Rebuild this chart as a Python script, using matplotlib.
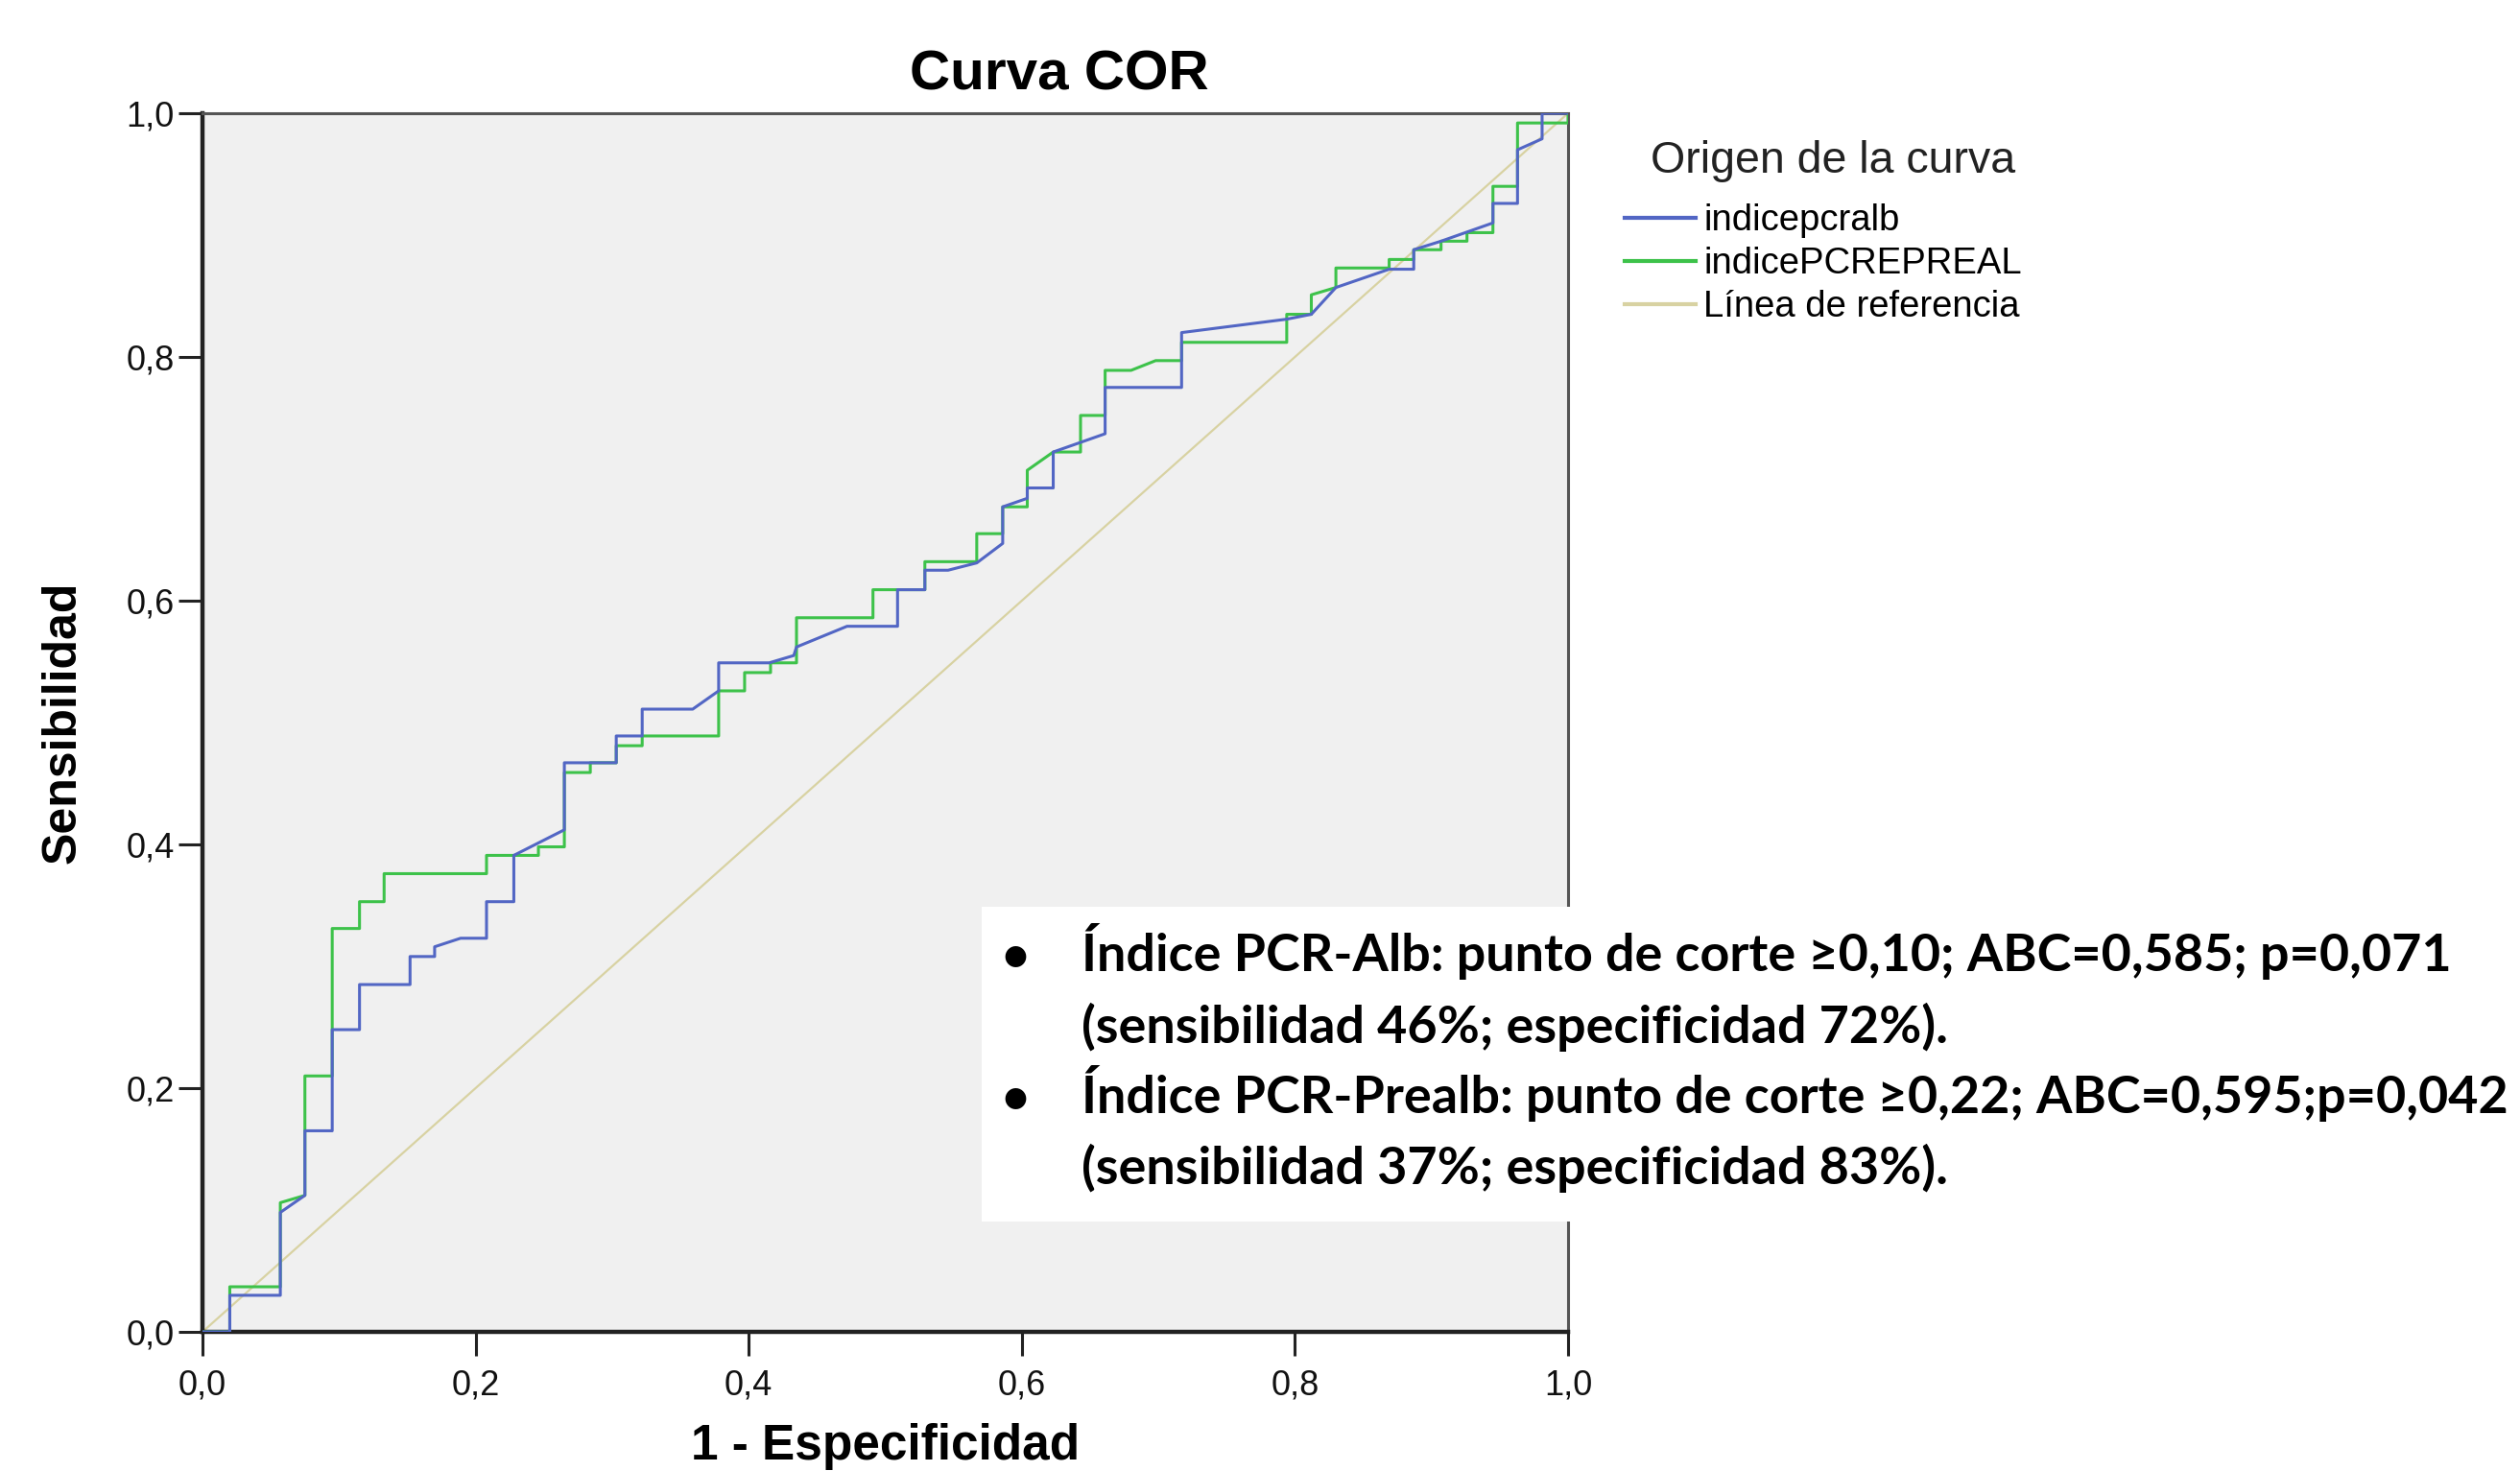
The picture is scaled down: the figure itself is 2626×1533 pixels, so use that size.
import matplotlib
matplotlib.use("Agg")
import matplotlib.pyplot as plt
from matplotlib.patches import Rectangle
from matplotlib.ticker import FuncFormatter

# ROC vertices (1 - especificidad, sensibilidad)
fpr_alb = [0, 0.020, 0.020, 0.057, 0.057, 0.075, 0.075, 0.095, 0.095, 0.115, 0.115, 0.152, 0.152,
           0.170, 0.170, 0.189, 0.208, 0.208, 0.228, 0.228, 0.265, 0.265, 0.303, 0.303, 0.322, 0.322,
           0.359, 0.378, 0.378, 0.415, 0.433, 0.435, 0.472, 0.509, 0.509, 0.529, 0.529, 0.546, 0.567,
           0.586, 0.586, 0.604, 0.604, 0.623, 0.623, 0.661, 0.661, 0.717, 0.717, 0.794, 0.812, 0.830,
           0.869, 0.887, 0.887, 0.907, 0.945, 0.945, 0.963, 0.963, 0.981, 0.981, 1.0]
tpr_alb = [0, 0, 0.030, 0.030, 0.098, 0.112, 0.165, 0.165, 0.248, 0.248, 0.285, 0.285, 0.308,
           0.308, 0.316, 0.323, 0.323, 0.353, 0.353, 0.391, 0.412, 0.467, 0.467, 0.489, 0.489, 0.511,
           0.511, 0.526, 0.549, 0.549, 0.555, 0.562, 0.579, 0.579, 0.609, 0.609, 0.625, 0.625, 0.631,
           0.647, 0.677, 0.684, 0.6925, 0.6925, 0.722, 0.737, 0.775, 0.775, 0.820, 0.831, 0.835, 0.857,
           0.872, 0.872, 0.888, 0.895, 0.910, 0.926, 0.926, 0.970, 0.979, 1.0, 1.0]

fpr_prealb = [0, 0.020, 0.020, 0.057, 0.057, 0.075, 0.075, 0.095, 0.095, 0.115, 0.115, 0.133, 0.133,
              0.208, 0.208, 0.246, 0.246, 0.265, 0.265, 0.284, 0.284, 0.303, 0.303, 0.322, 0.322,
              0.378, 0.378, 0.397, 0.397, 0.416, 0.416, 0.435, 0.435, 0.491, 0.491, 0.529, 0.529,
              0.567, 0.567, 0.586, 0.586, 0.604, 0.604, 0.623, 0.643, 0.643, 0.661, 0.661, 0.680,
              0.698, 0.717, 0.717, 0.794, 0.794, 0.812, 0.812, 0.830, 0.830, 0.869, 0.869, 0.887,
              0.887, 0.907, 0.907, 0.926, 0.926, 0.945, 0.945, 0.963, 0.963, 1.0, 1.0]
tpr_prealb = [0, 0, 0.037, 0.037, 0.106, 0.112, 0.210, 0.210, 0.331, 0.331, 0.353, 0.353, 0.376,
              0.376, 0.391, 0.391, 0.398, 0.398, 0.459, 0.459, 0.467, 0.467, 0.481, 0.481, 0.489,
              0.489, 0.526, 0.526, 0.541, 0.541, 0.549, 0.549, 0.586, 0.586, 0.609, 0.609, 0.632,
              0.632, 0.655, 0.655, 0.677, 0.677, 0.707, 0.722, 0.722, 0.752, 0.752, 0.789, 0.789,
              0.797, 0.797, 0.812, 0.812, 0.835, 0.835, 0.851, 0.857, 0.873, 0.873, 0.880, 0.880,
              0.888, 0.888, 0.895, 0.895, 0.902, 0.902, 0.940, 0.940, 0.992, 0.992, 1.0]

ref_x = [0, 1]
ref_y = [0, 1]

series_names = ["indicepcralb", "indicePCREPREAL", "Línea de referencia"]
notes = [
    ("Índice PCR-Alb: punto de corte ≥0,10; ABC=0,585; p=0,071",
     "(sensibilidad 46%; especificidad 72%)."),
    ("Índice PCR-Prealb: punto de corte ≥0,22; ABC=0,595;p=0,042",
     "(sensibilidad 37%; especificidad 83%)."),
]

W, H = 2626, 1533
fig = plt.figure(figsize=(W / 100, H / 100), dpi=100)
ax = fig.add_axes([211 / W, 1 - 1388 / H, 1423 / W, 1270 / H])
ax.set_facecolor("#f0f0f0")

l1, = ax.plot(fpr_alb, tpr_alb, color="#5266c4", lw=2.2, zorder=4)
l2, = ax.plot(fpr_prealb, tpr_prealb, color="#3dc24a", lw=2.2, zorder=3)
l3, = ax.plot(ref_x, ref_y, color="#d8d2a2", lw=1.6, zorder=2)

ax.set_xlim(0, 1)
ax.set_ylim(0, 1)
ax.set_xticks([0, 0.2, 0.4, 0.6, 0.8, 1.0])
ax.set_yticks([0, 0.2, 0.4, 0.6, 0.8, 1.0])
fmt = FuncFormatter(lambda v, p: f"{v:.1f}".replace(".", ","))
ax.xaxis.set_major_formatter(fmt)
ax.yaxis.set_major_formatter(fmt)
ax.tick_params(length=18, width=2.2, color="#222222", labelsize=26,
               labelcolor="#111111")
ax.tick_params(axis="x", pad=10)
ax.tick_params(axis="y", pad=3)
for lab in ax.get_xticklabels() + ax.get_yticklabels():
    lab.set_family("Liberation Sans")

for s in ["left", "bottom"]:
    ax.spines[s].set_linewidth(3.2)
    ax.spines[s].set_color("#222222")
for s in ["top", "right"]:
    ax.spines[s].set_linewidth(2.2)
    ax.spines[s].set_color("#555555")

fig.text(1104 / W, 1 - 93 / H, "Curva COR", ha="center", va="baseline",
         fontsize=42, fontweight="bold", family="Liberation Sans")
fig.text(66 / W, 1 - 753 / H, "Sensibilidad", ha="center", va="center",
         rotation=90, fontsize=36, fontweight="bold", family="Liberation Sans")
fig.text(923 / W, 1 - 1521 / H, "1 - Especificidad", ha="center", va="baseline",
         fontsize=37, fontweight="bold", family="Liberation Sans")

# legend
fig.text(1720 / W, 1 - 180 / H, "Origen de la curva", ha="left", va="baseline",
         fontsize=33.5, family="Liberation Sans", color="#222222")
leg = fig.legend([l1, l2, l3], series_names, loc="upper left",
                 bbox_to_anchor=(1693 / W, 1 - 212 / H), frameon=False,
                 borderpad=0, borderaxespad=0, handlelength=1.95,
                 handletextpad=0.2, labelspacing=0.24,
                 prop={"family": "Liberation Sans", "size": 27.5})
for h in leg.legend_handles:
    h.set_linewidth(3)

# white note box over the chart
fig.add_artist(Rectangle((1023 / W, 1 - 1273 / H), (W - 1023) / W, 328 / H,
                         transform=fig.transFigure, facecolor="white",
                         edgecolor="none", zorder=5))
baselines = [1012, 1087, 1160, 1234]
i = 0
for first, second in notes:
    fig.text(1058 / W, 1 - (baselines[i] - 14) / H, "•", ha="center", va="center",
             fontsize=36, fontweight="bold", family=["Lato", "DejaVu Sans"], zorder=6)
    for line in (first, second):
        fig.text(1127 / W, 1 - baselines[i] / H, line, ha="left", va="baseline",
                 fontsize=38.8, fontweight="bold", family=["Lato", "DejaVu Sans"],
                 zorder=6)
        i += 1

fig.savefig("out.png", dpi=100, facecolor="white")
